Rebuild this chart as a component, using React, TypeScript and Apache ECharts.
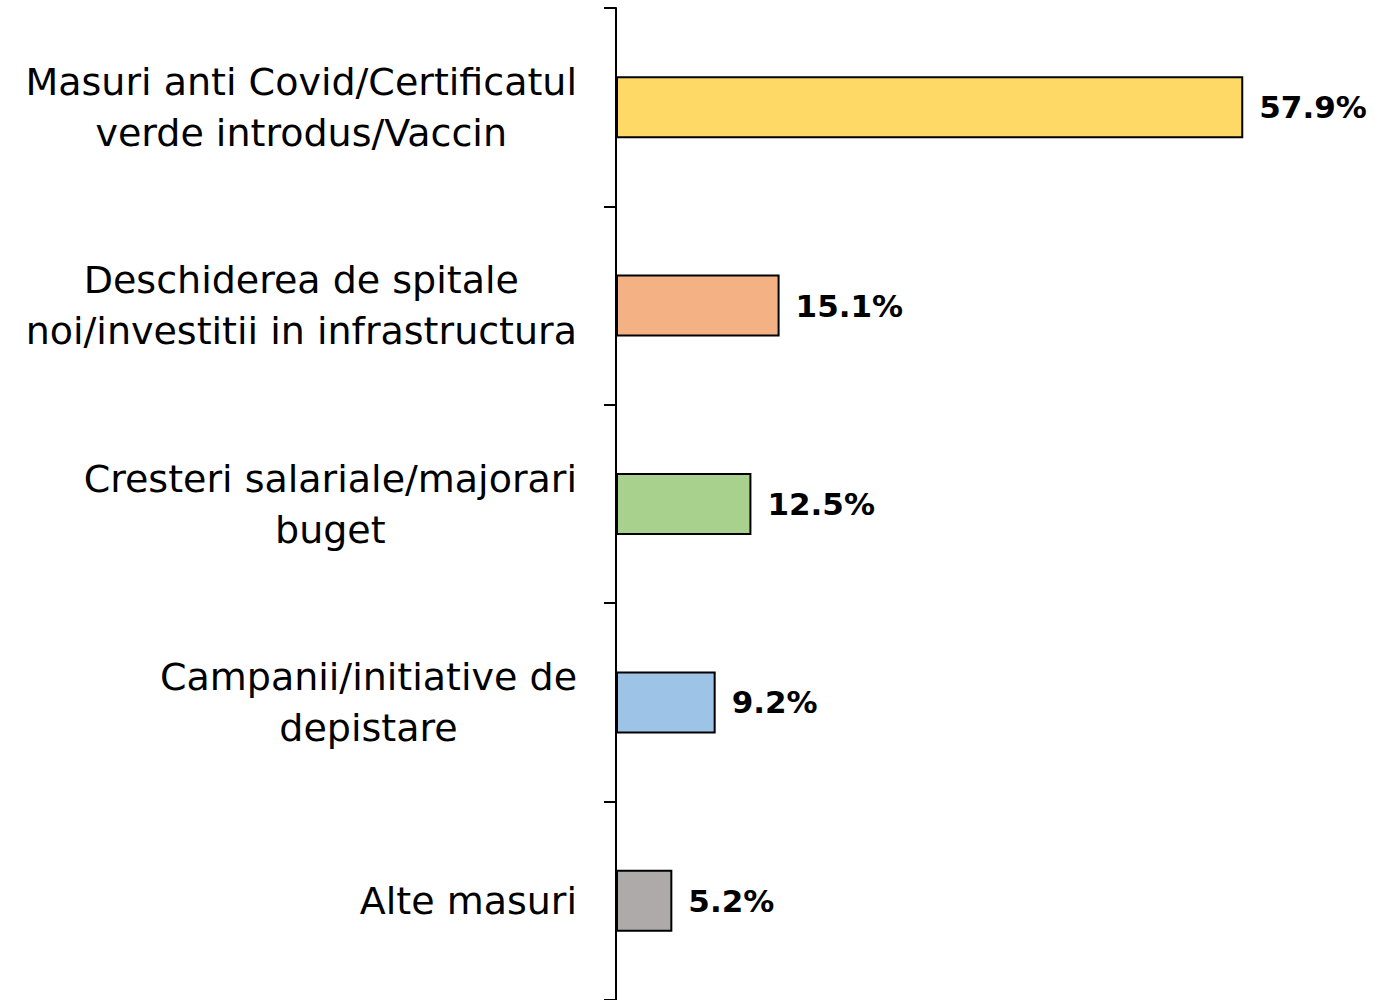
import React, { useEffect, useRef } from "react";
import * as echarts from "echarts";

const categories: string[] = [
  "Masuri anti Covid/Certificatul\nverde introdus/Vaccin",
  "Deschiderea de spitale\nnoi/investitii in infrastructura",
  "Cresteri salariale/majorari\nbuget",
  "Campanii/initiative de\ndepistare",
  "Alte masuri",
];
const values: number[] = [57.9, 15.1, 12.5, 9.2, 5.2];
const colors: string[] = ["#FFD966", "#F4B183", "#A9D18E", "#9DC3E6", "#AEAAAA"];

const FONT = "'DejaVu Sans', sans-serif";

export default function App() {
  const ref = useRef<HTMLDivElement>(null);
  useEffect(() => {
    if (!ref.current) return;
    const chart = echarts.init(ref.current, null, { renderer: "svg" });
    chart.setOption({
      animation: false,
      backgroundColor: "#ffffff",
      grid: { left: 616, right: 109, top: 8, bottom: 0, containLabel: false },
      xAxis: {
        type: "value",
        min: 0,
        max: 60,
        show: false,
      },
      yAxis: {
        type: "category",
        inverse: true,
        data: categories,
        axisLine: { show: true, lineStyle: { color: "#000", width: 2 } },
        axisTick: { show: true, length: 12, lineStyle: { color: "#000", width: 2 } },
        axisLabel: {
          margin: 39,
          formatter: (v: string) =>
            v
              .split("\n")
              .map((l) => `{c|${l}}`)
              .join("\n"),
          rich: {
            c: {
              align: "center",
              fontFamily: FONT,
              fontSize: 38,
              fontWeight: "normal",
              color: "#000",
              lineHeight: 51,
            },
          },
        },
      },
      series: [
        {
          type: "bar",
          barWidth: 62,
          data: values.map((v, i) => ({
            value: v,
            itemStyle: { color: colors[i], borderColor: "#000", borderWidth: 2 },
          })),
          label: {
            show: true,
            position: "right",
            distance: 16,
            formatter: (p: any) => `${p.value.toFixed(1)}%`,
            fontFamily: FONT,
            fontSize: 31,
            fontWeight: "bold",
            color: "#000",
            padding: [4, 0, 0, 0],
          },
        },
      ],
    });
    return () => chart.dispose();
  }, []);
  return (
    <div
      ref={ref}
      style={{ position: "absolute", left: 0, top: 0, width: 1375, height: 1000 }}
    />
  );
}
